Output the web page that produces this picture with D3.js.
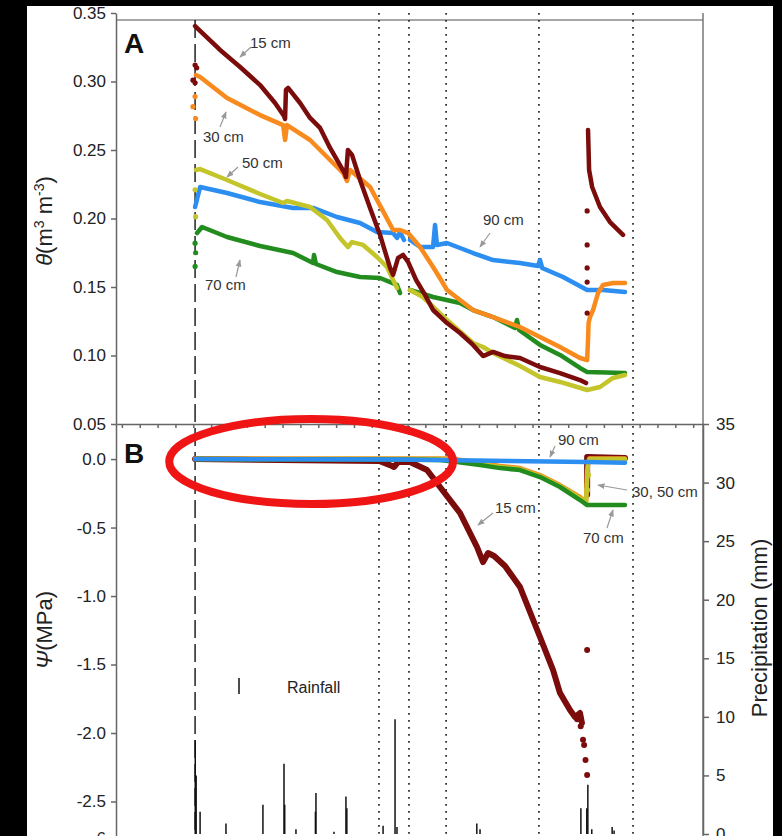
<!DOCTYPE html>
<html>
<head>
<meta charset="utf-8">
<script src="https://cdn.jsdelivr.net/npm/d3@7"></script>
<style>
body{margin:0;background:#000;}
svg{display:block;font-family:"Liberation Sans",Arial,Helvetica,sans-serif;}
</style>
</head>
<body>
<svg id="mainSvg"></svg>
<script>
//Soil water content theta (m3 m-3), [day, value], null = gap
const theta15 = [[0.10,0.3405],[1.50,0.3230],[2.62,0.3106],[3.74,0.2974],[4.58,0.2843],[5.08,0.2748],[5.14,0.2726],[5.19,0.2938],[5.31,0.2953],[5.98,0.2843],[6.54,0.2734],[7.10,0.2661],[7.66,0.2515],[8.50,0.2325],[8.55,0.2303],[8.66,0.2500],[8.89,0.2464],[9.34,0.2281],[9.90,0.2077],[10.46,0.1880],[11.02,0.1639],[11.19,0.1588],[11.47,0.1712],[11.75,0.1734],[12.03,0.1683],[12.48,0.1551],[12.98,0.1442],[13.43,0.1332],[14.21,0.1237],[14.94,0.1164],[15.67,0.1077],[16.23,0.0996],[16.79,0.1026],[17.46,0.0996],[18.30,0.0982],[19.42,0.0916],[20.54,0.0872],[21.66,0.0821],[22.00,0.0799],
  null,[22.11,0.2646],[22.17,0.2354],[22.34,0.2230],[22.78,0.2084],[23.34,0.1974],[24.07,0.1880]];
const theta30 = [[0.15,0.3047],[0.38,0.3033],[1.89,0.2880],[3.74,0.2755],[5.03,0.2682],[5.14,0.2573],[5.25,0.2682],[6.54,0.2573],[7.66,0.2427],[8.39,0.2332],[8.61,0.2274],[8.78,0.2354],[9.90,0.2230],[10.74,0.2026],[11.19,0.1916],[11.58,0.1916],[12.03,0.1894],[12.70,0.1792],[13.43,0.1646],[13.88,0.1551],[14.21,0.1478],[14.94,0.1405],[15.67,0.1332],[16.79,0.1281],[18.30,0.1208],[19.42,0.1135],[20.54,0.1062],[21.66,0.0982],[22.06,0.0967],[22.11,0.1114],[22.14,0.1237],[22.22,0.1281],[22.39,0.1332],[22.67,0.1456],[22.95,0.1515],[23.51,0.1529],[24.18,0.1529]];
const theta50 = [[0.15,0.2354],[0.38,0.2361],[1.89,0.2281],[3.74,0.2179],[5.03,0.2113],[5.25,0.2128],[6.54,0.2084],[7.49,0.1989],[8.22,0.1858],[8.66,0.1792],[8.89,0.1828],[9.51,0.1807],[10.29,0.1719],[10.85,0.1646],[11.19,0.1551],[11.41,0.1493],
  null,[12.14,0.1478],[12.86,0.1427],[14.21,0.1259],[15.67,0.1091],[16.23,0.1062],[16.79,0.1018],[18.30,0.0923],[19.42,0.0843],[20.54,0.0807],[22.06,0.0748],[22.78,0.0770],[23.51,0.0836],[24.18,0.0858]];
const theta70 = [[0.21,0.1894],[0.49,0.1938],[1.89,0.1865],[3.74,0.1799],[5.59,0.1748],[6.71,0.1675],[6.76,0.1734],[6.87,0.1668],[8.05,0.1609],[9.34,0.1573],[10.46,0.1566],[11.41,0.1515],[11.58,0.1456],
  null,[12.14,0.1478],[13.43,0.1427],[14.94,0.1383],[15.67,0.1332],[16.79,0.1281],[18.02,0.1201],[18.13,0.1259],[18.25,0.1186],[19.42,0.1077],[20.54,0.1004],[21.66,0.0909],[22.06,0.0880],[24.18,0.0872]];
const theta90 = [[0.10,0.2084],[0.38,0.2230],[1.89,0.2186],[3.74,0.2120],[5.59,0.2077],[6.71,0.2077],[8.05,0.2011],[9.34,0.1967],[10.29,0.1901],[11.19,0.1894],[11.41,0.1858],[11.58,0.1901],[11.80,0.1843],
  null,[12.14,0.1843],[12.70,0.1792],[13.43,0.1792],[13.54,0.1953],[13.65,0.1807],[14.21,0.1821],[15.67,0.1748],[16.79,0.1697],[18.30,0.1675],[19.31,0.1653],[19.42,0.1697],[19.54,0.1639],[20.71,0.1573],[22.06,0.1478],[22.95,0.1478],[24.18,0.1464]];

//Scattered single readings at the jumps
const theta15Dots = [[0.10,0.312],[0.19,0.310],[-0.02,0.301],[0.10,0.299],[22.06,0.131],[22.06,0.1536],[22.06,0.1639],[22.06,0.1807],[22.06,0.2055]];
const theta30Dots = [[0.10,0.289],[-0.02,0.2816],[0.13,0.273]];
const theta50Dots = [[0.10,0.221],[0.13,0.2013]];
const theta70Dots = [[0.10,0.182],[0.13,0.175],[0.10,0.165]];

//Soil water potential psi (MPa)
const psi15 = [[0.10,0],[10.46,-0.015],[11.02,-0.044],[11.24,-0.058],[11.47,-0.022],[12.14,-0.022],[13.09,-0.080],[13.82,-0.204],[14.94,-0.394],[15.89,-0.642],[16.23,-0.752],[16.51,-0.686],[16.85,-0.708],[17.46,-0.781],[18.30,-0.934],[19.42,-1.299],[20.15,-1.540],[20.54,-1.708],[21.10,-1.832],[21.38,-1.883],[21.66,-1.854],[21.77,-1.927],
  null,[22.06,-0.26],[22.06,0.015],[24.18,0.007]];
const psi30 = [[0.10,0.004],[14.38,0.004],[15.50,-0.015],[17.18,-0.051],[18.30,-0.066],[19.42,-0.117],[20.54,-0.190],[21.66,-0.277],[22.00,-0.314],[22.06,-0.080],[22.17,0.004],[24.18,0.004]];
const psi50 = [[0.10,0],[13.82,0],[14.77,-0.015],[16.06,-0.036],[17.18,-0.058],[18.30,-0.073],[19.42,-0.124],[20.54,-0.197],[21.66,-0.285],[22.00,-0.321],[22.06,-0.153],[22.11,-0.022],[22.22,0],[24.18,0]];
const psi70 = [[0.10,0],[10.46,-0.004],[13.82,-0.007],[14.77,-0.022],[16.06,-0.044],[17.18,-0.066],[18.30,-0.080],[19.42,-0.131],[20.54,-0.204],[21.66,-0.299],[22.06,-0.336],[24.18,-0.336]];
const psi90 = [[0.10,0],[11.58,-0.004],[22.06,-0.022],[24.18,-0.026]];
const psi15Dots = [[21.83,-2.05],[21.89,-2.088],[21.97,-2.197],[22.06,-2.307],[22.06,-1.394],[22.06,-0.168],[21.70,-1.95],[21.50,-1.90]];
const psi50Dots = [[22.06,-0.226],[22.11,-0.117]];

//Rainfall events, [day, mm]
const rainfall = [[0.11,8.0],[0.16,5.0],[0.38,1.9],[1.83,0.9],[3.90,2.5],[5.08,6.0],[5.12,2.5],[5.75,0.4],[6.84,1.9],[6.87,3.5],[7.88,0.2],[8.55,3.2],[8.60,2.2],[10.63,0.7],[11.30,9.8],[11.41,0.6],[15.88,0.9],[16.06,0.4],[21.71,2.2],[22.04,2.2],[22.10,4.2],[22.32,0.4],[23.46,0.6],[23.57,0.3]];

//Event lines
const startDay = 0.10;
const eventDays = [10.40, 12.08, 14.16, 19.36, 24.63];

//Ticks
const xTicks = d3.range(-4, 29);
const thetaTicks = [0.05, 0.10, 0.15, 0.20, 0.25, 0.30, 0.35];
const psiTicks = [0, -0.5, -1.0, -1.5, -2.0, -2.5, -6];
const precipTicks = [0, 5, 10, 15, 20, 25, 30, 35];

const series = [
	{name: '15 cm', color: '#7b0c0c', theta: theta15, psi: psi15, tDots: theta15Dots, pDots: psi15Dots},
	{name: '30 cm', color: '#f98a1d', theta: theta30, psi: psi30, tDots: theta30Dots, pDots: []},
	{name: '50 cm', color: '#c4c42b', theta: theta50, psi: psi50, tDots: theta50Dots, pDots: psi50Dots},
	{name: '70 cm', color: '#238c1f', theta: theta70, psi: psi70, tDots: theta70Dots, pDots: []},
	{name: '90 cm', color: '#2b8ef0', theta: theta90, psi: psi90, tDots: [], pDots: []}
];

const [w, h] = [782, 836];
const [left, right, panelTop, split, bottom] = [116, 703, 13, 424, 836];

const svg = d3.select('#mainSvg').attr('width', w).attr('height', h);

//Page: black edges, white sheet
svg.append('rect').attr('width', w).attr('height', h).attr('fill', '#000');
svg.append('rect').attr('x', 27).attr('y', 6).attr('width', 746).attr('height', h - 6).attr('fill', '#fff');

const xScale = d3.scaleLinear().domain([-4.33, 28.55]).range([left, right]);
const thetaScale = d3.scaleLinear().domain([0.05, 0.35]).range([split, panelTop]);
const psiScale = d3.scaleLinear().domain([0.256, -2.5, -6]).range([split, 801.5, 838]);
const precipScale = d3.scaleLinear().domain([0, 35]).range([834, split]);

//Top frame
svg.append('line').attr('x1', left).attr('x2', right).attr('y1', 20).attr('y2', 20).attr('stroke', '#888').attr('stroke-width', 1.5);
svg.append('line').attr('x1', right).attr('x2', right).attr('y1', panelTop).attr('y2', bottom).attr('stroke', '#777').attr('stroke-width', 1.5);

//Reference lines
svg.append('line').attr('x1', xScale(startDay)).attr('x2', xScale(startDay)).attr('y1', 20).attr('y2', bottom)
	.attr('stroke', '#222').attr('stroke-width', 1.5).attr('stroke-dasharray', '18,6');
svg.selectAll('.event').data(eventDays).join('line').attr('class', 'event')
	.attr('x1', d => xScale(d)).attr('x2', d => xScale(d)).attr('y1', panelTop).attr('y2', bottom)
	.attr('stroke', '#333').attr('stroke-width', 1.8).attr('stroke-dasharray', '1.8,5.2');

//Rain bars
svg.selectAll('.rain').data(rainfall).join('line').attr('class', 'rain')
	.attr('x1', d => xScale(d[0])).attr('x2', d => xScale(d[0]))
	.attr('y1', precipScale(0)).attr('y2', d => precipScale(d[1]))
	.attr('stroke', '#111').attr('stroke-width', 1.5);

//Curves
const lineA = d3.line().defined(d => d !== null).x(d => xScale(d[0])).y(d => thetaScale(d[1]));
const lineB = d3.line().defined(d => d !== null).x(d => xScale(d[0])).y(d => psiScale(d[1]));

const orderA = [4, 3, 2, 1, 0];
orderA.forEach(i => {
	const s = series[i];
	svg.append('path').attr('d', lineA(s.theta)).attr('fill', 'none').attr('stroke', s.color)
		.attr('stroke-width', 4.5).attr('stroke-linejoin', 'round').attr('stroke-linecap', 'round');
	svg.append('g').selectAll('circle').data(s.tDots).join('circle')
		.attr('cx', d => xScale(d[0])).attr('cy', d => thetaScale(d[1])).attr('r', 2.6).attr('fill', s.color);
});

const orderB = [0, 1, 2, 3, 4];
orderB.forEach(i => {
	const s = series[i];
	svg.append('path').attr('d', lineB(s.psi)).attr('fill', 'none').attr('stroke', s.color)
		.attr('stroke-width', i === 0 ? 6 : 4.5).attr('stroke-linejoin', 'round').attr('stroke-linecap', 'round');
	svg.append('g').selectAll('circle').data(s.pDots).join('circle')
		.attr('cx', d => xScale(d[0])).attr('cy', d => psiScale(d[1])).attr('r', 3).attr('fill', s.color);
});

//Axes
const styleAxis = g => {
	g.selectAll('path, line').attr('stroke', '#666').attr('stroke-width', 1.5);
	g.selectAll('text').attr('fill', '#222').style('font-size', '17px');
};
svg.append('g').attr('transform', `translate(0, ${split})`)
	.call(d3.axisBottom(xScale).tickValues(xTicks).tickFormat('').tickSize(4).tickSizeOuter(0)).call(styleAxis);
svg.append('g').attr('transform', `translate(${left}, 0)`)
	.call(d3.axisLeft(thetaScale).tickValues(thetaTicks).tickFormat(d3.format('.2f')).tickSize(5).tickPadding(5).tickSizeOuter(0)).call(styleAxis);
svg.append('g').attr('transform', `translate(${left}, 0)`)
	.call(d3.axisLeft(psiScale).tickValues(psiTicks).tickFormat(d => d === -6 ? '-6' : d.toFixed(1)).tickSize(5).tickPadding(5).tickSizeOuter(0)).call(styleAxis);
svg.append('g').attr('transform', `translate(${right}, 0)`)
	.call(d3.axisRight(precipScale).tickValues(precipTicks).tickSize(6).tickPadding(7).tickSizeOuter(0)).call(styleAxis);

//Panel letters
svg.append('text').attr('x', 124).attr('y', 53).text('A').style('font-size', '28px').style('font-weight', 'bold').attr('fill', '#111');
svg.append('text').attr('x', 124).attr('y', 463).text('B').style('font-size', '28px').style('font-weight', 'bold').attr('fill', '#111');

//Axis titles
svg.append('text').attr('transform', 'translate(52, 221) rotate(-90)').attr('text-anchor', 'middle').style('font-size', '22px').attr('fill', '#222')
	.html('<tspan font-style="italic">θ</tspan><tspan>(m</tspan><tspan baseline-shift="super" font-size="14px">3</tspan><tspan> m</tspan><tspan baseline-shift="super" font-size="14px">-3</tspan><tspan>)</tspan>');
svg.append('text').attr('transform', 'translate(52, 630) rotate(-90)').attr('text-anchor', 'middle').style('font-size', '22px').attr('fill', '#222')
	.html('<tspan font-style="italic">Ψ</tspan>(MPa)');
svg.append('text').attr('transform', 'translate(767, 628) rotate(-90)').attr('text-anchor', 'middle').style('font-size', '22px').attr('fill', '#222')
	.text('Precipitation (mm)');

//Depth labels with arrows
svg.append('defs').append('marker').attr('id', 'head').attr('viewBox', '0 0 10 10').attr('refX', 9).attr('refY', 5)
	.attr('markerWidth', 6).attr('markerHeight', 6).attr('orient', 'auto')
	.append('path').attr('d', 'M0,1 L10,5 L0,9 Z').attr('fill', '#999');

const labels = [
	{t: '15 cm', x: 250, y: 48, a: [251, 47, 240, 57]},
	{t: '30 cm', x: 203, y: 142, a: [220, 127, 226, 112]},
	{t: '50 cm', x: 242, y: 168, a: [238, 167, 227, 177]},
	{t: '70 cm', x: 205, y: 290, a: [236, 277, 240, 260]},
	{t: '90 cm', x: 483, y: 225, a: [490, 233, 480, 247]},
	{t: '90 cm', x: 558, y: 445, a: [555, 446, 550, 457]},
	{t: '30, 50 cm', x: 632, y: 497, a: [627, 490, 598, 485]},
	{t: '70 cm', x: 583, y: 543, a: [607, 528, 613, 510]},
	{t: '15 cm', x: 495, y: 513, a: [493, 513, 478, 525]}
];
svg.selectAll('.lab').data(labels).join('text').attr('class', 'lab')
	.attr('x', d => d.x).attr('y', d => d.y).text(d => d.t).style('font-size', '15px').attr('fill', '#333');
svg.selectAll('.arr').data(labels).join('line').attr('class', 'arr')
	.attr('x1', d => d.a[0]).attr('y1', d => d.a[1]).attr('x2', d => d.a[2]).attr('y2', d => d.a[3])
	.attr('stroke', '#999').attr('stroke-width', 1.2).attr('marker-end', 'url(#head)');

//Rainfall legend
svg.append('line').attr('x1', 239).attr('x2', 239).attr('y1', 678).attr('y2', 694).attr('stroke', '#111').attr('stroke-width', 1.5);
svg.append('text').attr('x', 287).attr('y', 693).text('Rainfall').style('font-size', '16px').attr('fill', '#222');

//Red highlight ellipse
svg.append('ellipse').attr('cx', xScale(6.6)).attr('cy', psiScale(-0.018))
	.attr('rx', xScale(14.55) - xScale(6.6)).attr('ry', 42.5)
	.attr('fill', 'none').attr('stroke', '#f01515').attr('stroke-width', 8);
</script>
</body>
</html>
